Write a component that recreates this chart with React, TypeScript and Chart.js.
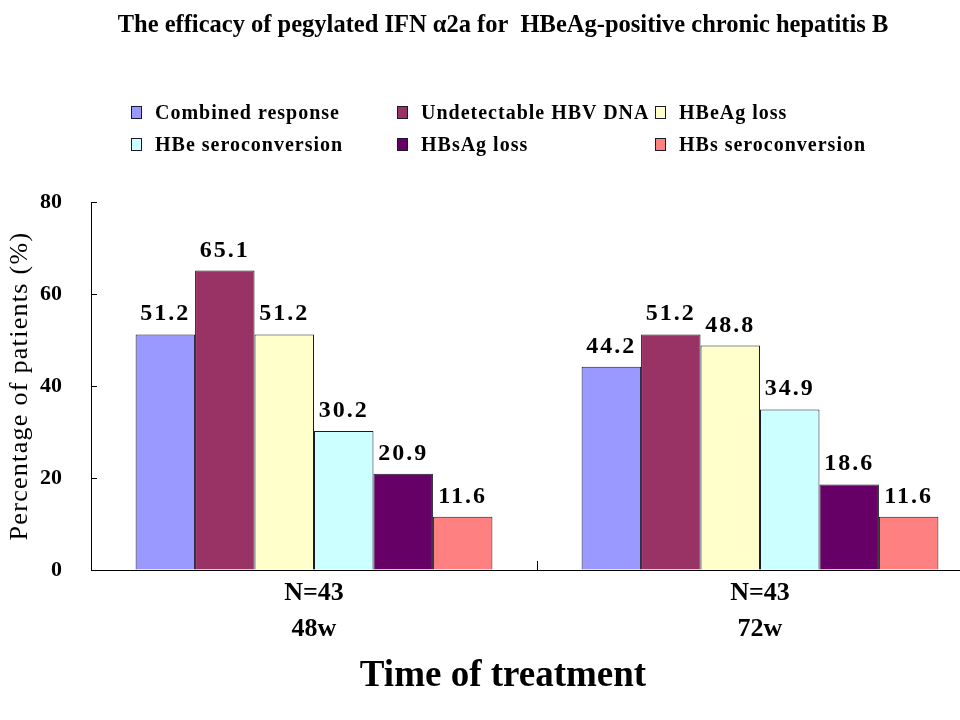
import React, { useEffect, useRef } from "react";
import { Chart, registerables } from "chart.js";

Chart.register(...registerables);

const TITLE = "The efficacy of pegylated IFN α2a for  HBeAg-positive chronic hepatitis B";
const X_TITLE = "Time of treatment";
const Y_TITLE = "Percentage of patients (%)";

const categories = [["N=43", "48w"], ["N=43", "72w"]];
const seriesNames = [
  "Combined response",
  "Undetectable HBV DNA",
  "HBeAg loss",
  "HBe seroconversion",
  "HBsAg loss",
  "HBs seroconversion",
];
const combinedResponse = [51.2, 44.2];
const undetectableHbvDna = [65.1, 51.2];
const hbeagLoss = [51.2, 48.8];
const hbeSeroconversion = [30.2, 34.9];
const hbsagLoss = [20.9, 18.6];
const hbsSeroconversion = [11.6, 11.6];
const seriesValues = [
  combinedResponse,
  undetectableHbvDna,
  hbeagLoss,
  hbeSeroconversion,
  hbsagLoss,
  hbsSeroconversion,
];
const seriesColors = ["#9999FF", "#993366", "#FFFFCC", "#CCFFFF", "#660066", "#FF8080"];
const yMin = 0;
const yMax = 80;
const yStep = 20;

const FONT = '"Liberation Serif", "Times New Roman", Times, serif';
const CANVAS_W = 1006;
const CANVAS_H = 720;

const valueLabels = {
  id: "valueLabels",
  afterDatasetsDraw(chart: any) {
    const ctx = chart.ctx;
    ctx.save();
    ctx.font = `bold 24px ${FONT}`;
    (ctx as any).letterSpacing = "2px";
    ctx.fillStyle = "#000";
    ctx.textAlign = "center";
    ctx.textBaseline = "alphabetic";
    chart.data.datasets.forEach((ds: any, i: number) => {
      const meta = chart.getDatasetMeta(i);
      meta.data.forEach((bar: any, j: number) => {
        const v = ds.data[j] as number;
        ctx.fillText(v.toFixed(1), bar.x, bar.y - 14);
      });
    });
    ctx.restore();
  },
};

const yAxisTitle = {
  id: "yAxisTitle",
  afterDraw(chart: any) {
    const ctx = chart.ctx;
    const area = chart.chartArea;
    ctx.save();
    ctx.translate(20, (area.top + area.bottom) / 2);
    ctx.rotate(-Math.PI / 2);
    ctx.font = `normal 26px ${FONT}`;
    (ctx as any).letterSpacing = "1.3px";
    ctx.fillStyle = "#000";
    ctx.textAlign = "center";
    ctx.textBaseline = "middle";
    ctx.fillText(Y_TITLE, 0, 0);
    ctx.restore();
  },
};

export default function App() {
  const canvasRef = useRef<HTMLCanvasElement | null>(null);

  useEffect(() => {
    document.body.style.overflow = "hidden";
    const canvas = canvasRef.current;
    if (!canvas) return;
    Chart.defaults.font.family = FONT;
    Chart.defaults.color = "#000";
    const chart = new Chart(canvas, {
      type: "bar",
      data: {
        labels: categories,
        datasets: seriesNames.map((name, i) => ({
          label: name,
          data: seriesValues[i],
          backgroundColor: seriesColors[i],
          borderColor: "#1a1a2e",
          borderWidth: 1,
          categoryPercentage: 0.8,
          barPercentage: 1,
        })),
      },
      options: {
        responsive: false,
        animation: false,
        layout: { padding: { left: 23, right: 23, top: 0, bottom: 0 } },
        plugins: {
          legend: { display: false },
          tooltip: { enabled: false },
          title: {
            display: true,
            text: TITLE,
            color: "#000",
            font: { family: FONT, size: 24.5, weight: "bold", lineHeight: 1.2 },
            padding: { top: 11, bottom: 161.6 },
          },
          subtitle: {
            display: true,
            position: "bottom",
            text: X_TITLE,
            color: "#000",
            font: { family: FONT, size: 37, weight: "bold", lineHeight: 1.2 },
            padding: { top: 4, bottom: 21.6 },
          },
        },
        scales: {
          x: {
            grid: {
              display: true,
              drawOnChartArea: false,
              drawTicks: true,
              tickLength: -9,
              color: "#000",
              offset: true,
            },
            border: { display: true, color: "#000", width: 1 },
            ticks: {
              color: "#000",
              padding: 14,
              font: { family: FONT, size: 26, weight: "bold", lineHeight: 1.38 },
              maxRotation: 0,
            },
            afterFit: (s: any) => {
              s.height = 80;
            },
          },
          y: {
            min: yMin,
            max: yMax,
            grid: {
              display: true,
              drawOnChartArea: false,
              drawTicks: true,
              tickLength: -6,
              color: "#000",
            },
            border: { display: true, color: "#000", width: 1 },
            ticks: {
              stepSize: yStep,
              color: "#000",
              padding: 35,
              font: { family: FONT, size: 22, weight: "bold" },
            },
            title: { display: false },
            afterFit: (s: any) => {
              s.width = 68;
            },
          },
        },
      },
      plugins: [valueLabels, yAxisTitle],
    });
    return () => chart.destroy();
  }, []);

  const colX = [131, 397, 655];
  const rowY = [112, 144];

  return (
    <div
      style={{
        position: "fixed",
        left: 0,
        top: 0,
        width: CANVAS_W,
        height: CANVAS_H,
        background: "#fff",
      }}
    >
      <canvas
        ref={canvasRef}
        width={CANVAS_W}
        height={CANVAS_H}
        style={{ width: CANVAS_W, height: CANVAS_H, display: "block" }}
      />
      {seriesNames.map((name, i) => (
        <div
          key={name}
          style={{
            position: "absolute",
            left: colX[i % 3],
            top: rowY[Math.floor(i / 3)] - 13,
            height: 26,
            display: "flex",
            alignItems: "center",
            whiteSpace: "nowrap",
            fontFamily: FONT,
            fontWeight: "bold",
            fontSize: 20,
            letterSpacing: "1px",
            color: "#000",
          }}
        >
          <span
            style={{
              display: "inline-block",
              width: 11,
              height: 13,
              boxSizing: "border-box",
              border: "1px solid #1a1a2e",
              background: seriesColors[i],
              marginRight: 13,
            }}
          />
          {name}
        </div>
      ))}
    </div>
  );
}
